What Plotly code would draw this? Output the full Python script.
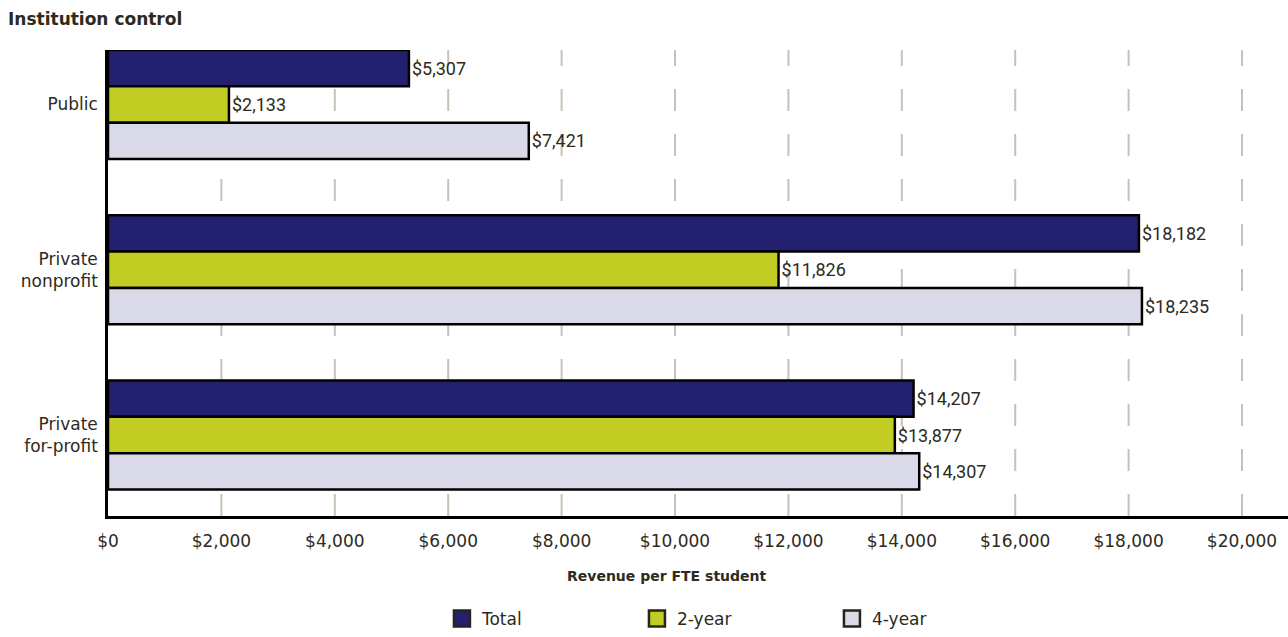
import plotly.graph_objects as go

# Revenue per full-time-equivalent student, by institution control and level
controls = ["Public", "Private<br>nonprofit", "Private<br>for-profit"]
total = [5307, 18182, 14207]
two_year = [2133, 11826, 13877]
four_year = [7421, 18235, 14307]

series_names = ["Total", "2-year", "4-year"]
series_colors = ["#232070", "#c2cd23", "#d9d9e8"]

tick_vals = [0, 2000, 4000, 6000, 8000, 10000, 12000, 14000, 16000, 18000, 20000]
tick_text = ["$0", "$2,000", "$4,000", "$6,000", "$8,000", "$10,000",
             "$12,000", "$14,000", "$16,000", "$18,000", "$20,000"]

FONT = "'DejaVu Sans', sans-serif"
LABEL_FONT = "Roboto, sans-serif"
INK = "#2d2a20"
GRID = "#c9c1b5"

fig = go.Figure()
for name, vals, color in zip(series_names, [total, two_year, four_year], series_colors):
    fig.add_trace(go.Bar(
        y=controls, x=vals, name=name, orientation="h", showlegend=False,
        marker=dict(color=color, line=dict(color="#000000", width=2.5)),
        texttemplate="$%{x:,}", textposition="outside",
        textfont=dict(family=LABEL_FONT, size=18, color=INK),
        cliponaxis=False,
    ))

# legend keys as outlined squares
for name, color in zip(series_names, series_colors):
    fig.add_trace(go.Scatter(
        x=[None], y=[None], mode="markers", name=name,
        marker=dict(symbol="square", size=16, color=color,
                    line=dict(color="#2a2418", width=2.5)),
    ))

# dashed vertical guides, drawn upward from the baseline
for v in tick_vals[1:]:
    fig.add_shape(type="line", xref="x", yref="paper", x0=v, x1=v, y0=0, y1=1,
                  line=dict(color=GRID, width=2, dash="22px,23px"), layer="below")

fig.update_layout(
    width=1288, height=637,
    margin=dict(l=108, r=0, t=50, b=117),
    paper_bgcolor="white", plot_bgcolor="white",
    barmode="group", bargap=0.34, bargroupgap=0,
    font=dict(family=FONT, size=17, color=INK),
    title=dict(text="<b>Institution control</b>", xref="container", yref="container",
               x=8 / 1288, xanchor="left", y=1 - 19 / 637, yanchor="middle",
               font=dict(family=FONT, size=17, color=INK)),
    showlegend=True,
    legend=dict(orientation="h", x=0.283, xanchor="left", y=-0.221, yanchor="middle",
                entrywidth=150, entrywidthmode="pixels", itemsizing="trace",
                font=dict(family=FONT, size=17, color=INK), traceorder="normal"),
    xaxis=dict(range=[0, 20811], tickvals=tick_vals, ticktext=tick_text,
               showgrid=False, zeroline=False, showline=True,
               linecolor="#000000", linewidth=2.5, ticks="", ticklabelstandoff=8,
               tickfont=dict(family=FONT, size=17, color=INK), fixedrange=True),
    yaxis=dict(range=[2.49, -0.33], showgrid=False, zeroline=False, showline=True,
               linecolor="#000000", linewidth=2.5, ticks="", ticklabelstandoff=4,
               tickfont=dict(family=FONT, size=17, color=INK), fixedrange=True),
    annotations=[dict(text="<b>Revenue per FTE student</b>", xref="paper", yref="paper",
                      x=0.4737, y=-0.129, xanchor="center", yanchor="middle",
                      showarrow=False, font=dict(family=FONT, size=14, color=INK))],
)

fig.write_html("out.html")
